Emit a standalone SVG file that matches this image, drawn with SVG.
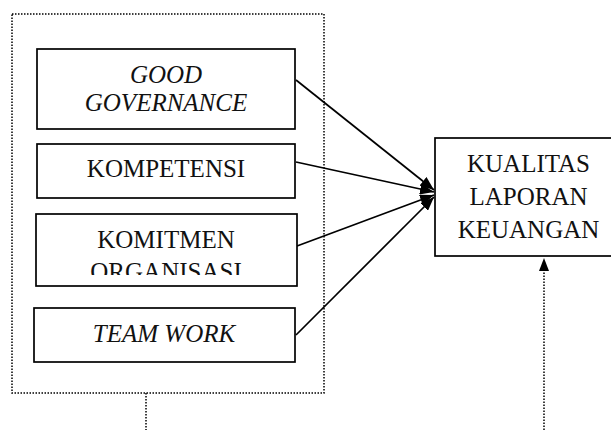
<svg xmlns="http://www.w3.org/2000/svg" width="611" height="430" viewBox="0 0 611 430">
<defs>
<style>
.box{fill:#fff;stroke:#000;stroke-width:1.7}
.dot{fill:none;stroke:#000;stroke-width:1.5;stroke-dasharray:1.5 1.5}
.ln{fill:none;stroke:#000;stroke-width:1.7}
.t{font-size:25px;fill:#111;text-anchor:middle}
.i{font-style:italic}
</style>
<marker id="ah" viewBox="0 0 14 11" refX="14" refY="5.5" markerWidth="14" markerHeight="11" markerUnits="userSpaceOnUse" orient="auto">
<path d="M0,0 L14,5.5 L0,11 Z" fill="#000"/>
</marker>
<clipPath id="clipOrg"><rect x="0" y="0" width="611" height="275"/></clipPath>
</defs>
<rect id="frame" class="dot" x="12" y="14" width="312" height="379"/>
<g id="connectors">
<line class="ln" x1="296" y1="80" x2="434" y2="190" marker-end="url(#ah)"/>
<line class="ln" x1="296" y1="162" x2="434" y2="192" marker-end="url(#ah)"/>
<line class="ln" x1="297" y1="246" x2="434" y2="195" marker-end="url(#ah)"/>
<line class="ln" x1="296" y1="335" x2="434" y2="197" marker-end="url(#ah)"/>
<line class="dot" x1="146" y1="393" x2="146" y2="430"/>
<line class="dot" x1="544" y1="430" x2="544" y2="270"/>
<path d="M544,258 L549,271 L539,271 Z" fill="#000"/>
</g>
<g font-family="Liberation Serif, Times New Roman, DejaVu Serif, serif">
<g id="good-governance">
<rect class="box" x="37" y="49" width="258" height="80"/>
<text class="t i" x="166" y="83">GOOD</text>
<text class="t i" x="166" y="111">GOVERNANCE</text>
</g>
<g id="kompetensi">
<rect class="box" x="37" y="144" width="258" height="54"/>
<text class="t" x="166" y="177">KOMPETENSI</text>
</g>
<g id="komitmen">
<rect class="box" x="36" y="214" width="261" height="72"/>
<text class="t" x="166" y="248">KOMITMEN</text>
<text class="t" x="166" y="280" clip-path="url(#clipOrg)">ORGANISASI</text>
</g>
<g id="team-work">
<rect class="box" x="34" y="308" width="261" height="54"/>
<text class="t i" x="164" y="342">TEAM WORK</text>
</g>
<g id="kualitas">
<rect class="box" x="435" y="138" width="190" height="118"/>
<text class="t" x="528.5" y="172">KUALITAS</text>
<text class="t" x="528.5" y="205">LAPORAN</text>
<text class="t" x="528.5" y="238">KEUANGAN</text>
</g>
</g>
</svg>
